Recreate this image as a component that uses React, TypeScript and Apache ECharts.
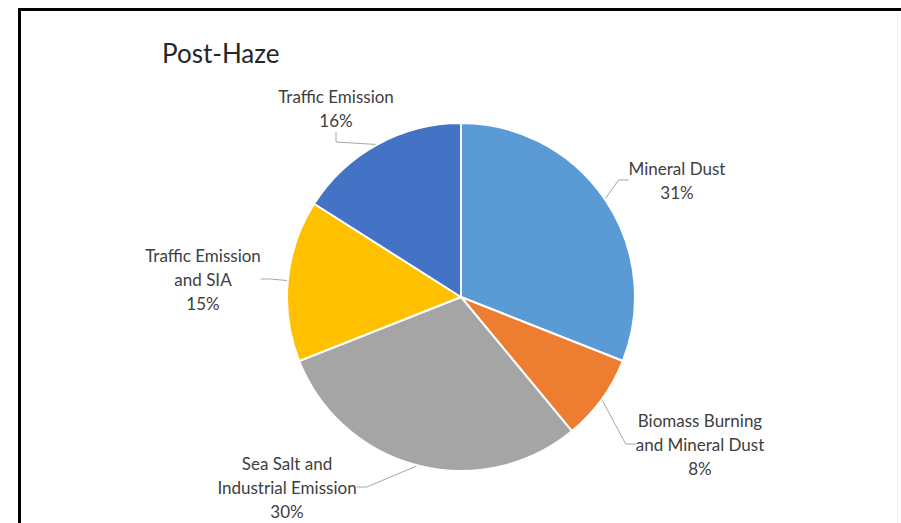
import React, { useEffect, useRef } from "react";
import * as echarts from "echarts";

const titleText = "Post-Haze";
const categories = [
  "Mineral Dust",
  "Biomass Burning\nand Mineral Dust",
  "Sea Salt and\nIndustrial Emission",
  "Traffic Emission\nand SIA",
  "Traffic Emission",
];
const values = [31, 8, 30, 15, 16];
const colors = ["#5B9BD5", "#ED7D31", "#A5A5A5", "#FFC000", "#4472C4"];
// label centres (layout only)
const labelPos = [
  [677, 180],
  [700, 444],
  [287, 487],
  [203, 279],
  [336, 108],
];

export default function App() {
  const ref = useRef<HTMLDivElement>(null);
  useEffect(() => {
    if (!ref.current) return;
    const chart = echarts.init(ref.current, null, { renderer: "svg" });
    chart.setOption({
      animation: false,
      backgroundColor: "#ffffff",
      title: {
        text: titleText,
        left: 157,
        top: 35,
        textStyle: {
          fontFamily: "Lato",
          fontSize: 26,
          fontWeight: "normal",
          color: "#262626",
        },
      },
      graphic: [
        {
          type: "rect",
          shape: { x: 19.5, y: 9.5, width: 1000, height: 1000 },
          style: { fill: "none", stroke: "#000", lineWidth: 3 },
          silent: true,
        },
        {
          type: "line",
          shape: { x1: 897.5, y1: 12, x2: 897.5, y2: 523 },
          style: { stroke: "#efefef", lineWidth: 1 },
          silent: true,
        },
      ],
      series: [
        {
          type: "pie",
          center: [461, 297],
          radius: 174,
          startAngle: 90,
          clockwise: true,
          avoidLabelOverlap: false,
          itemStyle: { borderColor: "#ffffff", borderWidth: 2 },
          label: {
            show: true,
            position: "outside",
            formatter: "{b}\n{d}%",
            fontFamily: "Lato",
            fontSize: 17,
            lineHeight: 24,
            color: "#404040",
            align: "center",
          },
          labelLine: {
            show: true,
            length: 10,
            length2: 10,
            lineStyle: { color: "#A6A6A6", width: 1 },
          },
          labelLayout: (params: any) => {
            const p = labelPos[params.dataIndex];
            return { x: p[0], y: p[1], align: "center", verticalAlign: "middle" };
          },
          data: categories.map((name, i) => ({
            name,
            value: values[i],
            itemStyle: { color: colors[i] },
          })),
        },
      ],
    });
    return () => chart.dispose();
  }, []);
  return (
    <div
      ref={ref}
      style={{ position: "fixed", left: 0, top: 0, width: 901, height: 523 }}
    />
  );
}
